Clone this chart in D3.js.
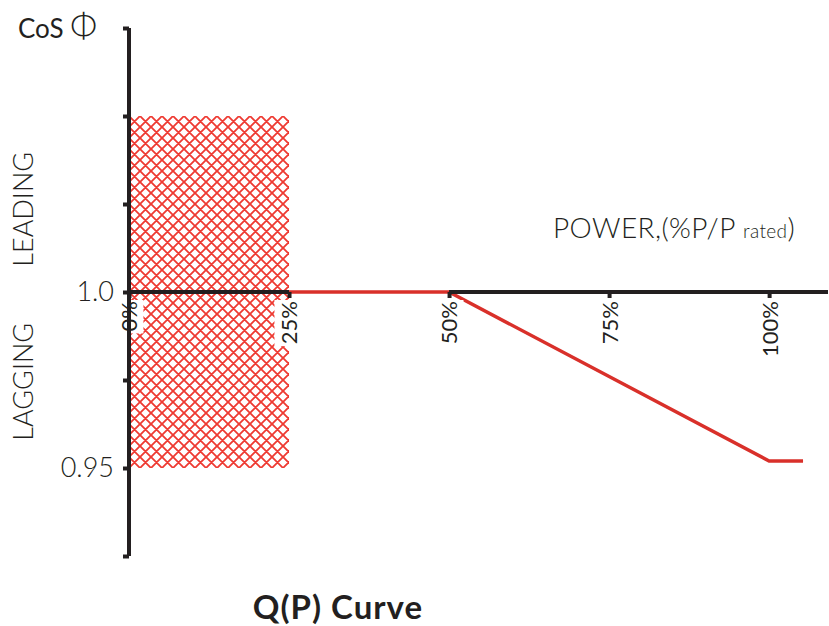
<!DOCTYPE html>
<meta charset="utf-8">
<script src="https://d3js.org/d3.v7.min.js"></script>
<style>
body { margin: 0; background: #fff; }
text { font-family: Lato, "Noto Sans", sans-serif; fill: #231f20; }
.axis path, .axis line { stroke: #231f20; stroke-width: 4; }
.curve { stroke: #d9302a; fill: none; stroke-width: 3.5; }
</style>
<body>
<script>

// deviation from unity power factor: + leading, - lagging
var yTicks = [0.075, 0.05, 0.025, 0, -0.025, -0.05, -0.075]
var yLabels = {"0": "1.0", "-0.05": "0.95"}

var xTicks = [0, 25, 50, 75, 100]

// curve points: [power %, deviation]
var curve = [[25, 0], [50, 0], [100, -0.048], [105.3, -0.048]]

// hatched region: 0-25% power, PF 0.95 leading..0.95 lagging
var band = {x0: 0, x1: 25, y0: 0.05, y1: -0.05}

var width = 829, height = 626

var svg = d3.select("body").append("svg")
  .attr("width", width)
  .attr("height", height)

var xScale = d3.scaleLinear()
  .domain([0, 109.2])
  .range([129, 828])

var yScale = d3.scaleLinear()
  .domain([0.075, -0.075])
  .range([28, 556])

var pat = svg.append("defs").append("pattern")
  .attr("id", "hatch")
  .attr("patternUnits", "userSpaceOnUse")
  .attr("width", 11)
  .attr("height", 11)
  .attr("x", 129)
  .attr("y", 116)
pat.append("path")
  .attr("d", "M0,0L11,11M0,11L11,0M-1,1L1,-1M10,12L12,10M-1,10L1,12M10,-1L12,1")
  .attr("stroke", "#ee3a32")
  .attr("stroke-width", 1.8)

svg.append("rect")
  .attr("x", xScale(band.x0))
  .attr("y", yScale(band.y0))
  .attr("width", xScale(band.x1) - xScale(band.x0))
  .attr("height", yScale(band.y1) - yScale(band.y0))
  .attr("fill", "url(#hatch)")

var yAxis = d3.axisLeft(yScale)
  .tickValues(yTicks)
  .tickSize(6)
  .tickSizeOuter(0)
  .tickPadding(9)
  .tickFormat(function(d) { return yLabels[String(d)] || "" })

var xAxis = d3.axisBottom(xScale)
  .tickValues(xTicks)
  .tickSize(6)
  .tickSizeOuter(0)
  .tickFormat(function(d) { return d + "%" })

svg.append("path")
  .attr("class", "curve")
  .attr("d", d3.line()
    .x(function(d) { return xScale(d[0]) })
    .y(function(d) { return yScale(d[1]) })(curve))

var gx = svg.append("g")
  .attr("class", "axis x")
  .attr("transform", "translate(0," + yScale(0) + ")")
  .call(xAxis)

// only draw the black axis where the red curve isn't on it
gx.select(".domain").attr("d", "M" + xScale(0) + ",0H" + xScale(25) + "M" + xScale(50) + ",0H" + xScale(109.2))

gx.selectAll(".tick text")
  .attr("transform", "rotate(-90)")
  .attr("text-anchor", "end")
  .attr("x", -9)
  .attr("y", 0)
  .attr("dy", "0.36em")
  .attr("fill", "#231f20")
  .attr("font-size", 22)

// white box behind the tick labels (they sit over the hatch)
gx.selectAll(".tick").each(function() {
  var t = d3.select(this).select("text")
  var b = t.node().getBBox()
  d3.select(this).insert("rect", "text")
    .attr("transform", "rotate(-90)")
    .attr("x", b.x - 2)
    .attr("y", b.y - 1)
    .attr("width", b.width + 3)
    .attr("height", b.height + 2)
    .attr("fill", "#fff")
})

var gy = svg.append("g")
  .attr("class", "axis y")
  .attr("transform", "translate(" + xScale(0) + ",0)")
  .call(yAxis)

gy.select(".domain").attr("d", "M0," + yScale(0.075) + "V" + yScale(-0.075))
gy.selectAll("text")
  .attr("fill", "#231f20")
  .attr("font-size", 27)
  .style("font-weight", 300)

var cos = svg.append("text")
  .attr("x", 18)
  .attr("y", 38)
  .style("font-size", "26px")
cos.append("tspan").text("CoS ")
cos.append("tspan").style("font-size", "33px").style("font-weight", 300).text("Φ")

svg.append("text")
  .attr("transform", "translate(33," + yScale(0.0235) + ") rotate(-90)")
  .attr("text-anchor", "middle")
  .style("font-size", "27px")
  .style("font-weight", 300)
  .text("LEADING")

svg.append("text")
  .attr("transform", "translate(33," + yScale(-0.0255) + ") rotate(-90)")
  .attr("text-anchor", "middle")
  .style("font-size", "27px")
  .style("font-weight", 300)
  .text("LAGGING")

var pw = svg.append("text")
  .attr("x", 553)
  .attr("y", 238)
  .style("font-size", "28px")
  .style("font-weight", 300)
  .style("letter-spacing", "0.4px")
pw.append("tspan").text("POWER,(%P/P ")
pw.append("tspan").style("font-size", "19px").text("rated")
pw.append("tspan").text(")")

svg.append("text")
  .attr("x", 338)
  .attr("y", 619)
  .attr("text-anchor", "middle")
  .style("font-size", "33px")
  .style("font-weight", "bold")
  .style("letter-spacing", "1px")
  .text("Q(P) Curve")

</script>
</body>
